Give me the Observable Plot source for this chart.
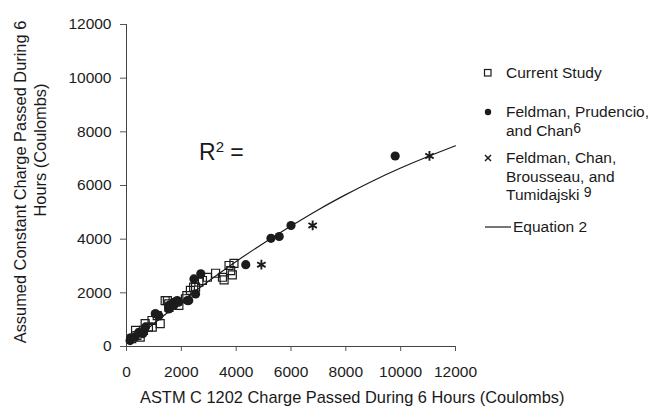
<!DOCTYPE html>
<html><head><meta charset="utf-8">
<script src="https://cdn.jsdelivr.net/npm/d3@7"></script>
<script src="https://cdn.jsdelivr.net/npm/@observablehq/plot@0.6"></script>
<style>
body{margin:0;background:#fff;}
#wrap{position:relative;width:650px;height:409px;font-family:"Liberation Sans",Arial,sans-serif;color:#1a1a1a;overflow:hidden;}
#wrap svg{display:block;}
.t{position:absolute;white-space:nowrap;font-size:15.5px;line-height:18.5px;}
.rot{position:absolute;white-space:nowrap;font-size:16.4px;transform:translate(-50%,-50%) rotate(-90deg);}
.sym{position:absolute;}
.sup{font-size:14px;line-height:14px;position:relative;top:-3px;}
</style></head><body><div id="wrap"></div>
<script>
// ---- data ----
const xTicks = [0, 2000, 4000, 6000, 8000, 10000, 12000];
const yTicks = [0, 2000, 4000, 6000, 8000, 10000, 12000];

const currentStudyX = [190, 330, 380, 500, 620, 680, 800, 930, 940, 1120, 1230, 1410, 1490, 1540, 1550, 1910, 2150, 2200, 2330, 2450, 2520, 2640, 2770, 2950, 3250, 3500, 3560, 3740, 3800, 3860, 3920];
const currentStudyY = [290, 600, 410, 350, 600, 850, 720, 970, 720, 1150, 850, 1710, 1710, 1590, 1460, 1530, 1780, 1900, 2090, 2210, 2210, 2400, 2460, 2580, 2730, 2580, 2480, 3020, 2830, 2670, 3100];

const prudencioX = [130, 150, 320, 450, 600, 690, 1050, 1060, 1180, 1540, 1550, 1720, 1730, 1850, 1900, 2220, 2270, 2460, 2520, 2710, 4350, 5270, 5570, 6000, 9800];
const prudencioY = [220, 320, 350, 530, 480, 720, 1220, 1220, 1150, 1400, 1530, 1530, 1650, 1710, 1650, 1710, 1710, 2520, 1960, 2710, 3050, 4030, 4100, 4510, 7100];

const tumidajskiX = [4920, 6790, 11050];
const tumidajskiY = [3050, 4510, 7100];

const equation2X = [200, 1000, 2000, 3000, 4000, 5000, 6000, 7000, 8000, 9000, 10000, 11000, 12000];
const equation2Y = [175, 855, 1670, 2440, 3170, 3850, 4490, 5100, 5660, 6180, 6650, 7080, 7480];

const yLabelLines = ["Assumed Constant Charge Passed During 6", "Hours (Coulombs)"];
const xLabel = "ASTM C 1202 Charge Passed During 6 Hours (Coulombs)";

// ---- tables ----
const zip = (xs, ys) => xs.map((x, i) => ({x, y: ys[i]}));
const current = zip(currentStudyX, currentStudyY);
const prudencio = zip(prudencioX, prudencioY);
const tumidajski = zip(tumidajskiX, tumidajskiY);
const equation2 = zip(equation2X, equation2Y);

const ink = "#1c1c1c";
const chart = Plot.plot({
  width: 650, height: 409,
  marginLeft: 126, marginRight: 195, marginTop: 24, marginBottom: 63,
  style: {fontFamily: '"Liberation Sans", Arial, sans-serif', fontSize: "15.5px", color: ink, background: "white", overflow: "visible"},
  x: {domain: [0, 12000]},
  y: {domain: [0, 12000]},
  marks: [
    Plot.axisX({ticks: xTicks, tickSize: 5, tickPadding: 14, tickFormat: d => String(d), label: null, stroke: "#555"}),
    Plot.axisY({ticks: yTicks, tickSize: 6, tickPadding: 9, tickFormat: d => String(d), label: null, stroke: "#555"}),
    Plot.ruleX([0], {stroke: "#444", strokeWidth: 1}),
    Plot.ruleY([0], {stroke: "#444", strokeWidth: 1}),
    Plot.line(equation2, {x: "x", y: "y", curve: "natural", stroke: ink, strokeWidth: 1.2}),
    Plot.dot(current, {x: "x", y: "y", symbol: "square", r: 4.5, stroke: ink, fill: "none", strokeWidth: 1.2}),
    Plot.dot(prudencio, {x: "x", y: "y", symbol: "circle", r: 4.6, fill: ink, stroke: "none"}),
    Plot.dot(tumidajski, {x: "x", y: "y", symbol: "asterisk", r: 4.6, stroke: ink, strokeWidth: 1.9})
  ]
});
const wrap = document.getElementById("wrap");
wrap.appendChild(chart);

function add(html, cls, css) {
  const d = document.createElement("div");
  d.className = cls;
  d.innerHTML = html;
  Object.assign(d.style, css);
  wrap.appendChild(d);
  return d;
}
// axis titles
add(yLabelLines[0], "rot", {left: "20px", top: "182px"});
add(yLabelLines[1], "rot", {left: "39.5px", top: "150px"});
add(xLabel, "t", {left: "140px", top: "388px", fontSize: "16.4px"});
// R^2 annotation
add('R<span style="font-size:15px;line-height:15px;position:relative;top:-8px;">2</span> =', "t", {left: "199px", top: "139px", fontSize: "23px", lineHeight: "26px"});

// legend
const sup = s => `<span class="sup">${s}</span>`;
add("Current Study", "t", {left: "506px", top: "64px"});
add(`Feldman, Prudencio,<br>and Chan${sup("6")}`, "t", {left: "506px", top: "103px"});
add(`Feldman, Chan,<br>Brousseau, and<br>Tumidajski ${sup("9")}`, "t", {left: "506px", top: "149px"});
add("Equation 2", "t", {left: "513px", top: "218px"});
add('<svg width="10" height="10"><rect x="1.5" y="1.5" width="6.5" height="6.5" fill="none" stroke="#1c1c1c" stroke-width="1.2"/></svg>', "sym", {left: "483px", top: "68px"});
add('<svg width="10" height="10"><circle cx="5" cy="5" r="3.2" fill="#1c1c1c"/></svg>', "sym", {left: "483px", top: "107px"});
add('<svg width="10" height="10"><path d="M2,2L8,8M8,2L2,8" stroke="#1c1c1c" stroke-width="1.5"/></svg>', "sym", {left: "483px", top: "153px"});
add('<svg width="28" height="4"><line x1="0" y1="2" x2="26" y2="2" stroke="#1c1c1c" stroke-width="1.2"/></svg>', "sym", {left: "485px", top: "225px"});
</script></body></html>
